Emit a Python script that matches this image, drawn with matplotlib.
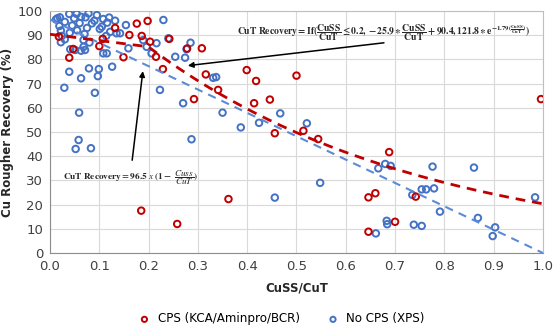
import numpy as np
import matplotlib
matplotlib.use("Agg")
import matplotlib.pyplot as plt

# CPS (KCA/Aminpro/BCR) points
cps_x = [0.996, 0.500, 0.399, 0.418, 0.446, 0.414, 0.456, 0.514, 0.544, 0.688,
         0.646, 0.660, 0.742, 0.700, 0.646, 0.185, 0.258, 0.362, 0.292, 0.316,
         0.308, 0.341, 0.229, 0.215, 0.203, 0.198, 0.176, 0.278, 0.186, 0.161,
         0.149, 0.100, 0.107, 0.132, 0.039, 0.047, 0.018, 0.242]
cps_y = [63.6, 73.3, 75.6, 71.1, 63.4, 61.9, 49.5, 50.5, 47.1, 41.7,
         23.0, 24.7, 23.3, 12.9, 8.8, 17.5, 12.0, 22.3, 63.6, 73.8,
         84.6, 67.4, 76.0, 81.1, 87.3, 95.9, 94.8, 84.5, 89.7, 90.1,
         80.9, 85.5, 88.5, 93.0, 80.7, 84.3, 89.4, 88.5]

# No CPS (XPS) points
xps_x = [0.020, 0.019, 0.022, 0.024, 0.022, 0.030, 0.039, 0.049, 0.054, 0.063,
         0.072, 0.078, 0.085, 0.095, 0.101, 0.108, 0.116, 0.132, 0.135, 0.154,
         0.159, 0.230, 0.240, 0.216, 0.206, 0.196, 0.189, 0.122, 0.114, 0.108,
         0.115, 0.068, 0.071, 0.068, 0.063, 0.051, 0.041, 0.039, 0.029, 0.079,
         0.099, 0.097, 0.091, 0.126, 0.063, 0.059, 0.058, 0.052, 0.083, 0.223,
         0.254, 0.274, 0.277, 0.285, 0.270, 0.287, 0.331, 0.337, 0.350, 0.387,
         0.424, 0.467, 0.521, 0.548, 0.456, 0.666, 0.680, 0.691, 0.776, 0.860,
         0.683, 0.684, 0.661, 0.738, 0.754, 0.735, 0.754, 0.763, 0.779, 0.791,
         0.868, 0.903, 0.898, 0.984, 0.015, 0.030, 0.045, 0.055, 0.060, 0.075,
         0.090, 0.105, 0.120, 0.040, 0.070, 0.080, 0.142, 0.012]
xps_y = [97.4, 93.8, 91.9, 89.7, 87.1, 88.3, 98.8, 97.0, 98.8, 97.6,
         97.4, 99.0, 94.9, 98.3, 92.6, 96.7, 95.2, 96.0, 90.8, 94.2,
         84.6, 96.3, 88.7, 86.7, 82.5, 85.2, 88.0, 91.4, 89.7, 82.5,
         82.5, 88.0, 83.9, 85.2, 83.6, 83.9, 84.2, 74.9, 68.3, 76.3,
         76.0, 73.1, 66.2, 77.0, 72.2, 58.0, 46.7, 43.0, 43.3, 67.4,
         81.1, 80.7, 84.2, 86.9, 61.9, 47.0, 72.4, 72.7, 58.0, 51.9,
         53.8, 57.7, 53.6, 29.0, 22.9, 35.0, 36.8, 36.0, 35.7, 35.3,
         13.3, 11.9, 8.1, 11.7, 11.2, 24.0, 26.3, 26.3, 26.7, 17.1,
         14.5, 10.6, 7.0, 23.0, 97.0, 95.5, 94.0, 92.0, 95.0, 93.0,
         96.0, 93.5, 97.3, 91.0, 90.5, 87.0, 90.8, 96.5]

# trend models written on the chart
lin_a = 96.5
cps_split, cps_m, cps_b = 0.2, -25.9, 90.4
cps_k, cps_r = 121.8, -1.79

red = "#C00000"
blue = "#4472C4"

plt.rcParams["mathtext.fontset"] = "stix"

fig = plt.figure(figsize=(5.57, 3.34), dpi=100)
ax = fig.add_axes([0.0898, 0.2425, 0.885, 0.7245])

ax.scatter(xps_x, xps_y, s=22, facecolors="none", edgecolors=blue, linewidths=1.4,
           label="No CPS (XPS)", zorder=3)
ax.scatter(cps_x, cps_y, s=22, facecolors="none", edgecolors=red, linewidths=1.4,
           label="CPS (KCA/Aminpro/BCR)", zorder=4)

xx = np.linspace(0, 1, 200)
ax.plot(xx, lin_a * (1 - xx), ls=(0, (4, 3)), color="#5B8BD6", lw=1.5, zorder=5)
red_fit = np.where(xx <= cps_split, cps_m * xx + cps_b, cps_k * np.exp(cps_r * xx))
ax.plot(xx, red_fit, ls=(0, (3.5, 2.5)), color=red, lw=2.0, zorder=5)

ax.set_xlim(0, 1)
ax.set_ylim(0, 100)
ax.set_xticks(np.arange(0, 1.01, 0.1))
ax.set_xticklabels([f"{v:.1f}" for v in np.arange(0, 1.01, 0.1)])
ax.set_yticks(np.arange(0, 101, 10))
ax.grid(True, color="#D9D9D9", lw=0.8)
ax.set_axisbelow(True)
ax.tick_params(length=0, labelsize=9.5, colors="#404040", pad=5)
for s in ["top", "right"]:
    ax.spines[s].set_color("#BFBFBF")
for s in ["left", "bottom"]:
    ax.spines[s].set_color("#8C8C8C")

ax.set_xlabel("CuSS/CuT", fontsize=8.5, fontweight="bold", color="#262626", labelpad=6)
ax.set_ylabel("Cu Rougher Recovery (%)", fontsize=8.5, fontweight="bold",
              color="#262626", labelpad=3)

# annotations
eq1 = (r"$\mathbf{CuT\ Recovery = If(\dfrac{CuSS}{CuT} \leq 0.2, -25.9 \ast \dfrac{CuSS}{CuT}"
       r" + 90.4, 121.8 \ast e^{-1.79(\frac{CuSS}{CuT})})}$")
ax.text(0.379, 91.0, eq1, fontsize=6.9, va="center", ha="left", color="#262626")
ax.annotate("", xy=(0.274, 77.3), xytext=(0.683, 87.0),
            arrowprops=dict(arrowstyle="-|>", color="black", lw=1.1, mutation_scale=8))

eq2 = r"$\mathbf{CuT\ Recovery = 96.5}\ x\ \mathbf{(1 -}\ \dfrac{Cuss}{CuT}\mathbf{)}$"
ax.text(0.027, 31.0, eq2, fontsize=6.7, va="center", ha="left", color="#262626")
ax.annotate("", xy=(0.189, 76.3), xytext=(0.166, 37.2),
            arrowprops=dict(arrowstyle="-|>", color="black", lw=1.1, mutation_scale=8))

h, l = ax.get_legend_handles_labels()
fig.legend(h[::-1], l[::-1], loc="center", bbox_to_anchor=(0.5, 0.045), ncol=2,
           frameon=False, fontsize=8.6, handletextpad=0.1, columnspacing=1.8,
           markerscale=0.8)

fig.savefig("out.png", dpi=100)
